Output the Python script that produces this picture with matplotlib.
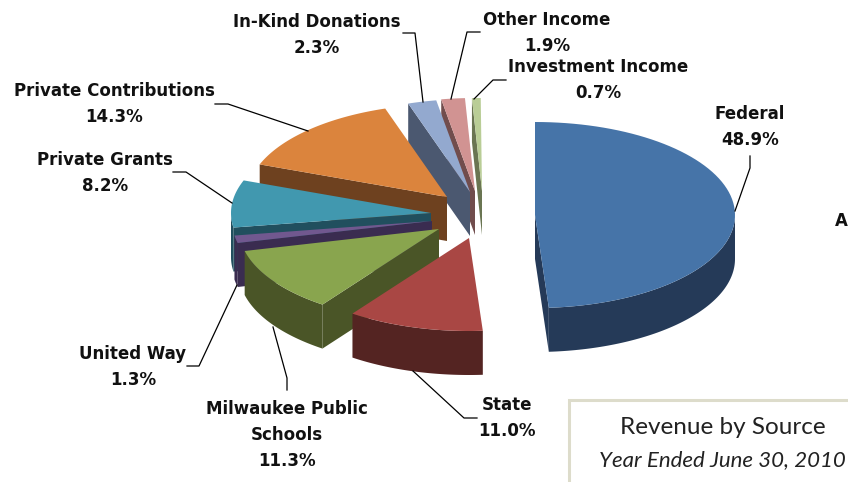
"""
Revenue by source, exploded 3D pie (year ended June 30, 2010)
"""

import numpy as np
import matplotlib
matplotlib.use("Agg")
import matplotlib.pyplot as plt
from matplotlib.patches import Polygon

sources = ["Federal", "State", "Milwaukee Public\nSchools", "United Way",
           "Private Grants", "Private Contributions", "In-Kind Donations",
           "Other Income", "Investment Income"]
percents = [48.9, 11.0, 11.3, 1.3, 8.2, 14.3, 2.3, 1.9, 0.7]

# ── look of the slices ───────────────────────────────────────────────
TOP_COLORS = ["#4674A8", "#A94744", "#89A54E", "#71588F", "#4198AF",
              "#DB843D", "#93A9CF", "#D19392", "#B9CD96"]
WALL_COLORS = ["#253A58", "#542422", "#4A5527", "#3A2C50", "#214F5E",
               "#6E411F", "#4B5870", "#714D4D", "#6A7552"]
# where each slice's tip ended up after exploding it (pixels)
TIP_X = [535, 469, 439, 432, 431, 447, 470, 475, 482]
TIP_Y = [215, 238, 229, 221, 213, 197, 192, 191, 191]
RX, RY = 200, 93
DEPTH = 44

# label centre and leader line for each slice (pixels)
LABEL_POS = [(750, 127), (507, 418), (287, 435), (133, 367), (105, 173),
             (114, 104), (317, 35), (547, 33), (598, 80)]
LEADERS = [
    [(750, 156), (750, 168), (735, 211)],
    [(413, 371), (464, 418), (477, 418)],
    [(273, 327), (287, 378), (287, 390)],
    [(237, 285), (199, 366), (187, 366)],
    [(232, 203), (186, 172), (173, 172)],
    [(308, 131), (228, 104), (215, 104)],
    [(423, 102), (415, 33), (403, 33)],
    [(451, 99), (467, 32), (480, 32)],
    [(474, 99), (493, 80), (506, 80)],
]

plt.rcParams["font.family"] = "DejaVu Sans"

fig = plt.figure(figsize=(8.48, 4.82), dpi=100)
ax = fig.add_axes([0, 0, 1, 1])
ax.set_xlim(0, 848)
ax.set_ylim(482, 0)
ax.axis("off")


def rim(cx, cy, t0, t1, n=80):
    t = np.radians(np.linspace(t0, t1, n))
    return np.column_stack([cx + RX * np.sin(t), cy - RY * np.cos(t)])


def draw_slice(cx, cy, t0, t1, top, wall):
    down = np.array([0, DEPTH])
    tip = np.array([cx, cy])
    # cut faces, only the ones turned towards the viewer
    for t, seen in [(t0, np.sin(np.radians(t0)) < -1e-6),
                    (t1, np.sin(np.radians(t1)) > 1e-6)]:
        if seen:
            edge = rim(cx, cy, t, t, 1)[0]
            pts = [tip, edge, edge + down, tip + down]
            ax.add_patch(Polygon(pts, closed=True, fc=wall, ec="none"))
    # outer wall, front half only
    a, b = max(t0, 90), min(t1, 270)
    if b > a:
        arc = rim(cx, cy, a, b)
        pts = np.vstack([arc, arc[::-1] + down])
        ax.add_patch(Polygon(pts, closed=True, fc=wall, ec="none"))
    pts = np.vstack([tip, rim(cx, cy, t0, t1)])
    ax.add_patch(Polygon(pts, closed=True, fc=top, ec="none"))


ends = np.cumsum(percents) * 3.6
starts = ends - np.array(percents) * 3.6

# back slices first, going round to the front
for i in [8, 7, 6, 5, 4, 3, 2, 1, 0]:
    draw_slice(TIP_X[i], TIP_Y[i], starts[i], ends[i], TOP_COLORS[i], WALL_COLORS[i])

for name, pct, pos, line in zip(sources, percents, LABEL_POS, LEADERS):
    xs, ys = zip(*line)
    ax.plot(xs, ys, color="black", lw=0.9)
    ax.text(pos[0], pos[1], f"{name}\n{pct:.1f}%", ha="center", va="center",
            fontsize=12, fontweight="bold", color="#111111", linespacing=1.6)

ax.text(841, 221, "A", ha="center", va="center", fontsize=12, fontweight="bold",
        color="#111111")

# title box, only its top and left rules are on the page
ax.plot([848, 569, 569], [400, 400, 482], color="#DDDCCB", lw=2.2, solid_joinstyle="miter")
ax.text(723, 427, "Revenue by Source", ha="center", va="center", fontsize=17.5,
        family="Lato", color="#222222")
ax.text(722, 460, "Year Ended June 30, 2010", ha="center", va="center", fontsize=16,
        family="Lato", style="italic", color="#222222")

plt.savefig("out.png", dpi=100)
